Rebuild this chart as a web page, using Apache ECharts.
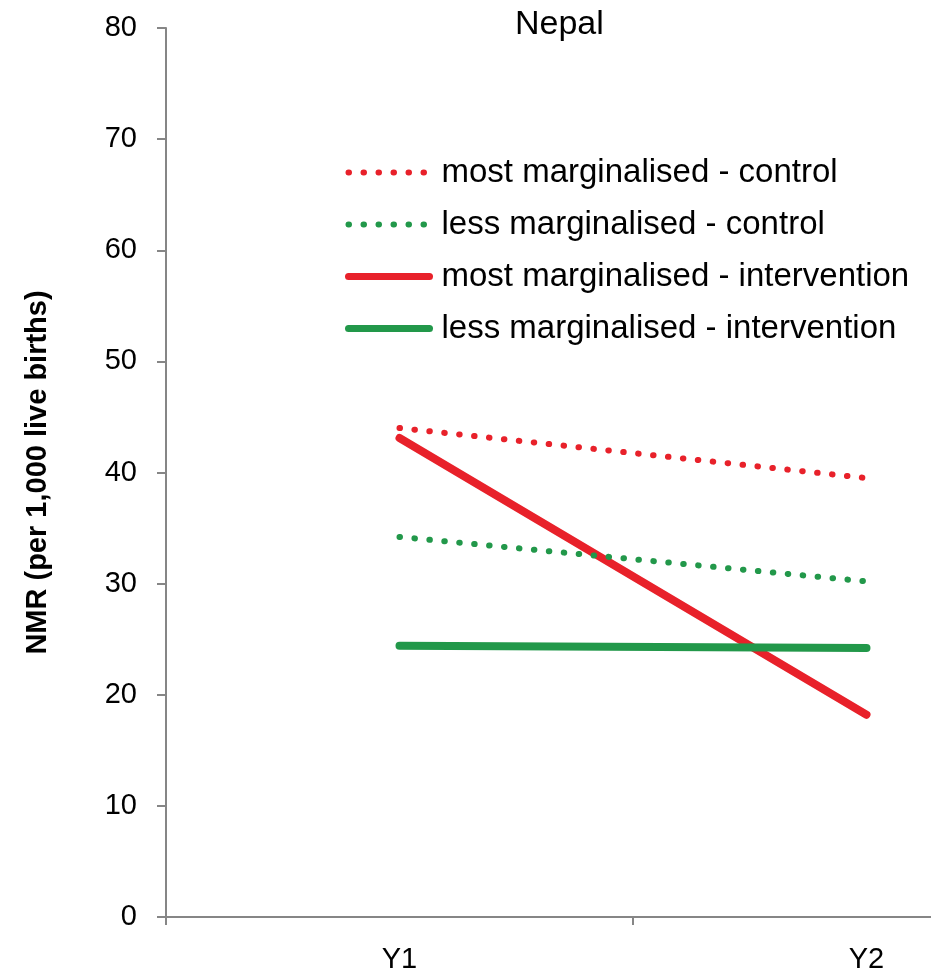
<!DOCTYPE html>
<html>
<head>
<meta charset="utf-8">
<script src="https://cdn.jsdelivr.net/npm/echarts@6/dist/echarts.min.js"></script>
<style>
  html, body { margin: 0; padding: 0; background: #fff; }
  #chart { width: 931px; height: 975px; }
</style>
</head>
<body>
<div id="chart"></div>
<script>
// data
var years = ['Y1', 'Y2'];
var mostControl = [44.0, 39.5];
var lessControl = [34.2, 30.2];
var mostIntervention = [43.1, 18.2];
var lessIntervention = [24.4, 24.2];
var seriesNames = [
  'most marginalised - control',
  'less marginalised - control',
  'most marginalised - intervention',
  'less marginalised - intervention'
];

var RED = '#E8212A';
var GREEN = '#22984A';
var AXIS = '#868686';
var FONT = 'Liberation Sans, Arial, sans-serif';
var DOTS = [0.5, 14.5];

var chart = echarts.init(document.getElementById('chart'));

function lineSeries(name, data, color, dotted) {
  return {
    name: name,
    type: 'line',
    data: data,
    symbol: 'none',
    showSymbol: false,
    lineStyle: {
      color: color,
      width: dotted ? 6 : 8,
      type: dotted ? DOTS : 'solid',
      cap: 'round'
    },
    itemStyle: { color: color },
    z: dotted ? 3 : 2
  };
}

function legendItem(name, color, dotted) {
  return {
    name: name,
    itemStyle: { opacity: 0 },
    lineStyle: {
      color: color,
      width: dotted ? 6 : 7,
      type: dotted ? DOTS : 'solid',
      cap: 'round'
    }
  };
}

var option = {
  animation: false,
  title: {
    text: 'Nepal',
    left: 515,
    top: 8,
    padding: 0,
    textStyle: { fontFamily: FONT, fontSize: 34, fontWeight: 'normal', color: '#000' }
  },
  legend: {
    orient: 'vertical',
    left: 340,
    top: 151,
    itemWidth: 81,
    itemHeight: 20,
    itemGap: 19,
    textStyle: { fontFamily: FONT, fontSize: 33, color: '#000', padding: [0, 0, 0, 7] },
    data: [
      legendItem(seriesNames[0], RED, true),
      legendItem(seriesNames[1], GREEN, true),
      legendItem(seriesNames[2], RED, false),
      legendItem(seriesNames[3], GREEN, false)
    ]
  },
  // the plot runs past the right edge of the picture, as in the original
  grid: { left: 166, top: 28, bottom: 58, width: 934, outerBoundsMode: 'none', containLabel: false },
  xAxis: {
    type: 'category',
    data: years,
    boundaryGap: true,
    axisLine: { lineStyle: { color: AXIS, width: 2 } },
    axisTick: { show: true, length: 8, lineStyle: { color: AXIS, width: 2 } },
    axisLabel: { fontFamily: FONT, fontSize: 29, color: '#000', margin: 28 }
  },
  yAxis: {
    type: 'value',
    min: 0,
    max: 80,
    interval: 10,
    name: 'NMR (per 1,000 live births)',
    nameLocation: 'middle',
    nameGap: 114,
    nameTextStyle: { fontFamily: FONT, fontSize: 29, fontWeight: 'bold', color: '#000' },
    axisLine: { show: true, lineStyle: { color: AXIS, width: 2 } },
    axisTick: { show: true, length: 9, lineStyle: { color: AXIS, width: 2 } },
    axisLabel: { fontFamily: FONT, fontSize: 29, color: '#000', margin: 29 },
    splitLine: { show: false }
  },
  series: [
    lineSeries(seriesNames[0], mostControl, RED, true),
    lineSeries(seriesNames[1], lessControl, GREEN, true),
    lineSeries(seriesNames[2], mostIntervention, RED, false),
    lineSeries(seriesNames[3], lessIntervention, GREEN, false)
  ]
};

chart.setOption(option);
</script>
</body>
</html>
